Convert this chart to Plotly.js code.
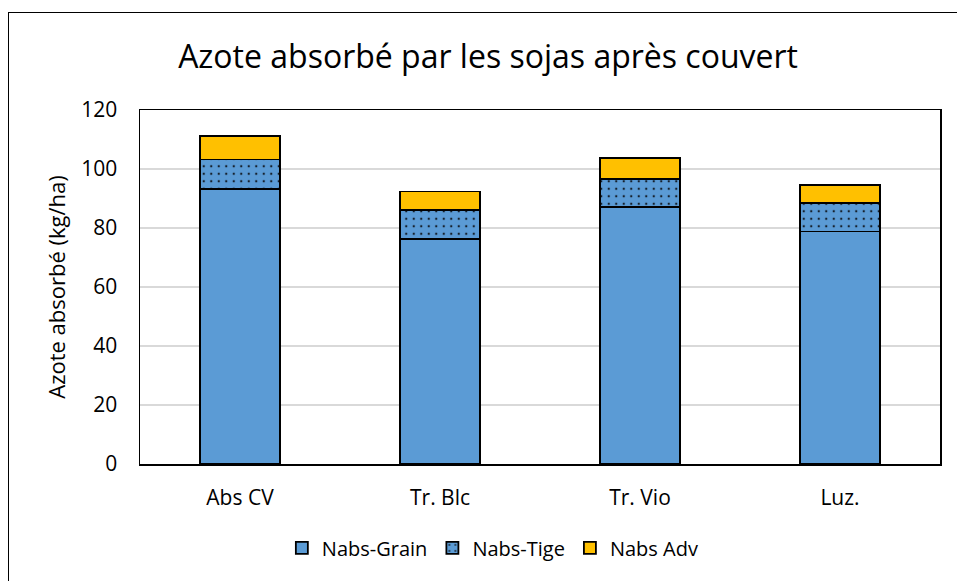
<!DOCTYPE html>
<html>
<head>
<meta charset="utf-8">
<script src="https://cdn.plot.ly/plotly-3.0.1.min.js"></script>
<style>
  html, body { margin:0; padding:0; overflow:hidden; background:#fff; }
  #chart { position:absolute; left:0; top:0; width:957px; height:581px; }
  #frame { position:absolute; left:8px; top:12px; width:1200px; height:1200px; border:1.5px solid #000; pointer-events:none; box-sizing:border-box; }
</style>
</head>
<body>
<div id="chart"></div>
<div id="frame"></div>
<script>
const categories = ["Abs CV", "Tr. Blc", "Tr. Vio", "Luz."];
const nabsGrain = [93.2, 76.4, 87.2, 78.8];
const nabsTige  = [10.0, 9.7, 9.4, 9.7];
const nabsAdv   = [7.9, 6.3, 7.1, 6.1];
const yTicks = [0, 20, 40, 60, 80, 100, 120];

const FONT = "Open Sans, sans-serif";
const line = {color: "#000", width: 1.8};

const traces = [
  {type: "bar", name: "Nabs-Grain", x: categories, y: nabsGrain,
   marker: {color: "#5B9BD5", line: line}},
  {type: "bar", name: "Nabs-Tige", x: categories, y: nabsTige,
   marker: {color: "#5B9BD5", line: line,
            pattern: {shape: ".", fgcolor: "#15202b", bgcolor: "#5B9BD5", size: 7.5, solidity: 0.075}}},
  {type: "bar", name: "Nabs Adv", x: categories, y: nabsAdv,
   marker: {color: "#FFC000", line: line}}
];

const layout = {
  width: 957, height: 581,
  margin: {l: 140, r: 17, t: 110, b: 117},
  paper_bgcolor: "#fff", plot_bgcolor: "#fff",
  barmode: "stack", bargap: 0.6,
  font: {family: FONT, color: "#000"},
  title: {text: "Azote absorbé par les sojas après couvert",
          font: {family: FONT, size: 32, color: "#000"},
          xref: "container", x: 0.51, xanchor: "center",
          yref: "container", y: 0.902, yanchor: "middle"},
  xaxis: {showline: true, mirror: true, linecolor: "#000", linewidth: 1.5,
          ticks: "", tickfont: {family: FONT, size: 21}, ticklabelstandoff: 14,
          showgrid: false},
  yaxis: {range: [0, 120], tickvals: yTicks, showline: true, mirror: true,
          linecolor: "#000", linewidth: 1.5, gridcolor: "#d9d9d9", gridwidth: 1.5,
          ticks: "", tickfont: {family: FONT, size: 21}, ticklabelstandoff: 17,
          zeroline: false,
          title: {text: "Azote absorbé (kg/ha)", font: {family: FONT, size: 22}, standoff: 9}},
  legend: {orientation: "h", xref: "container", yref: "container",
           x: 0.515, xanchor: "center", y: 0.057, yanchor: "middle",
           font: {family: FONT, size: 20}, traceorder: "normal",
           itemwidth: 30},
  showlegend: true
};

Plotly.newPlot("chart", traces, layout, {displayModeBar: false, staticPlot: true});
</script>
</body>
</html>
